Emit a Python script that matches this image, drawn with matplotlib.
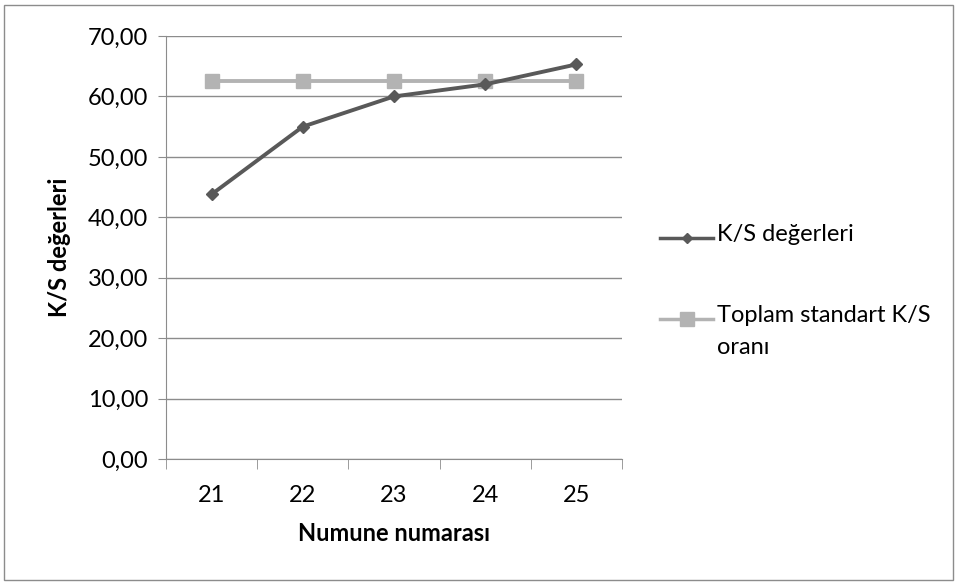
import matplotlib

matplotlib.use("Agg")
import matplotlib.pyplot as plt
from matplotlib.lines import Line2D
from matplotlib.patches import Rectangle
from matplotlib.ticker import FixedLocator, FuncFormatter

plt.rcParams["font.family"] = ["Lato", "DejaVu Sans"]

samples = ["21", "22", "23", "24", "25"]
ks_values = [43.8, 55.0, 60.0, 62.0, 65.3]
standard_ks = [62.6, 62.6, 62.6, 62.6, 62.6]
series_names = ["K/S değerleri", "Toplam standart K/S\noranı"]

dark = "#595959"
light = "#b3b3b3"
grid = "#8c8c8c"
W, H = 957, 583

fig = plt.figure(figsize=(9.57, 5.83), dpi=100)
fig.patches.append(Rectangle((0.004, 0.006), 0.992, 0.986, transform=fig.transFigure,
                             fill=False, edgecolor="#8c8c8c", linewidth=1.0))
ax = fig.add_axes([166 / W, 1 - 459 / H, 456 / W, 423 / H])

x = list(range(len(samples)))
ax.plot(x, standard_ks, color=light, linewidth=2.8, marker="s", markersize=10.5,
        zorder=3)
ax.plot(x, ks_values, color=dark, linewidth=2.8, marker="D", markersize=6.5,
        zorder=4)

ax.set_xlim(-0.5, len(samples) - 0.5)
ax.set_ylim(0, 70)
ax.set_yticks(range(0, 71, 10))
ax.yaxis.set_major_formatter(FuncFormatter(lambda v, _: f"{v:.2f}".replace(".", ",")))
ax.set_xticks(x)
ax.set_xticklabels(samples)
ax.xaxis.set_minor_locator(FixedLocator([i - 0.5 for i in range(len(samples) + 1)]))
ax.tick_params(axis="x", which="major", length=0, labelsize=17, pad=19)
ax.tick_params(axis="x", which="minor", length=7, color=grid, direction="out")
ax.tick_params(axis="y", length=6, color=grid, labelsize=17, pad=7)
ax.grid(axis="y", color=grid, linewidth=1.0)
ax.set_axisbelow(True)
for side in ("top", "right"):
    ax.spines[side].set_visible(False)
for side in ("left", "bottom"):
    ax.spines[side].set_color(grid)

ax.set_xlabel("Numune numarası", fontsize=17, fontweight="bold", labelpad=11)
ax.set_ylabel("K/S değerleri", fontsize=17, fontweight="bold", labelpad=12)

# legend drawn by hand so the handle sits on the first line of a wrapped label
legend_styles = [(dark, "D", 5.5, 238), (light, "s", 9.5, 319)]
for name, (color, marker, msize, ypix) in zip(series_names, legend_styles):
    yf = 1 - ypix / H
    fig.add_artist(Line2D([660 / W, 713 / W], [yf, yf], color=color, linewidth=2.5,
                          transform=fig.transFigure))
    fig.add_artist(Line2D([686.5 / W], [yf], color=color, marker=marker, markersize=msize,
                          transform=fig.transFigure))
    fig.text(717 / W, 1 - (ypix - 14) / H, name, fontsize=17, va="top",
             ha="left", linespacing=1.62)

fig.savefig("out.png", dpi=100)
